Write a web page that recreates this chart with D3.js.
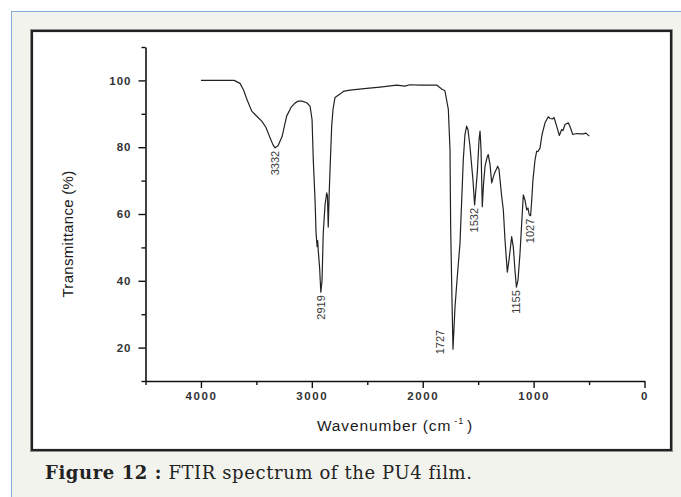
<!DOCTYPE html>
<html>
<head>
<meta charset="utf-8">
<script src="https://cdn.jsdelivr.net/npm/d3@7"></script>
<style>
  html, body { margin: 0; padding: 0; background: #ffffff; }
  svg { display: block; }
</style>
</head>
<body>
<svg id="fig" width="681" height="497"></svg>
<script>
// FTIR spectrum of the PU4 film: wavenumber (cm^-1) vs transmittance (%)
const wavenumber = [
  4000, 3700, 3648, 3618, 3585, 3542, 3503, 3452, 3413, 3377, 3350, 3332,
  3305, 3269, 3227, 3188, 3152, 3122, 3089, 3046, 3016, 2998, 2987, 2971,
  2962, 2952, 2947, 2942, 2930, 2919, 2908, 2897, 2881, 2866, 2859, 2852,
  2843, 2836, 2821, 2809, 2791, 2746, 2716, 2656, 2505, 2385, 2235, 2160,
  2115, 2024, 1874, 1829, 1800, 1769, 1754, 1748, 1736, 1727, 1709, 1691,
  1664, 1634, 1619, 1604, 1592, 1574, 1547, 1532, 1508, 1492, 1483, 1474,
  1463, 1452, 1438, 1420, 1409, 1393, 1378, 1357, 1324, 1312, 1288, 1273,
  1258, 1237, 1222, 1198, 1183, 1168, 1155, 1141, 1123, 1093, 1078, 1062,
  1051, 1039, 1027, 1017, 1006, 987, 972, 960, 942, 924, 897, 868,
  852, 828, 816, 792, 768, 747, 735, 717, 687, 672, 647, 611,
  582, 552, 528, 498
];
const transmittance = [
  100.0, 100.0, 99.1, 97.3, 94.3, 90.8, 89.5, 87.8, 85.9, 82.8, 80.7, 79.8,
  80.4, 83.1, 89.3, 91.9, 93.2, 93.8, 93.8, 93.3, 92.3, 88.3, 76.2, 64.2,
  54.3, 50.2, 52.0, 49.0, 44.0, 36.6, 40.1, 54.3, 62.7, 66.3, 65.4, 56.1,
  66.7, 73.2, 86.3, 91.3, 94.9, 95.9, 96.7, 97.1, 97.6, 98.0, 98.6, 98.3,
  98.7, 98.6, 98.6, 97.4, 96.9, 91.3, 79.3, 56.1, 34.1, 19.5, 32.1, 40.1,
  51.2, 76.3, 83.8, 86.3, 85.3, 80.3, 70.2, 62.7, 72.3, 82.3, 84.8, 79.2,
  62.2, 68.8, 74.3, 76.9, 77.8, 74.8, 69.3, 71.8, 74.3, 73.3, 65.3, 61.2,
  52.2, 42.6, 46.2, 53.2, 50.1, 43.1, 38.1, 40.1, 48.1, 65.7, 64.2, 61.2,
  61.8, 59.7, 59.5, 64.2, 70.2, 76.3, 78.8, 78.7, 79.8, 83.8, 87.3, 89.1,
  88.6, 88.5, 88.9, 86.3, 83.5, 85.3, 85.0, 86.8, 87.3, 86.2, 83.8, 84.1,
  84.0, 84.0, 84.2, 83.3
];

// annotated absorption bands
const peakWavenumbers = [3332, 2919, 1727, 1532, 1155, 1027];

// axis ticks
const xMajorTicks = [4000, 3000, 2000, 1000, 0];
const xMinorTicks = [4500, 3500, 2500, 1500, 500];
const yMajorTicks = [20, 40, 60, 80, 100];
const yMinorTicks = [10, 30, 50, 70, 90, 110];

const xTitle = "Wavenumber (cm";
const yTitle = "Transmittance (%)";
const captionBold = "Figure 12 :";
const captionText = " FTIR spectrum of the PU4 film.";

const svg = d3.select("#fig");

// page panel
svg.append("rect")
  .attr("x", 11.5).attr("y", 11.5).attr("width", 700).attr("height", 500)
  .attr("fill", "#f3f3ee").attr("stroke", "#86a9dc").attr("stroke-width", 1);

// figure frame
svg.append("rect")
  .attr("x", 30.5).attr("y", 29.5).attr("width", 642).attr("height", 422)
  .attr("fill", "none").attr("stroke", "#9a9a9a").attr("stroke-width", 1);
svg.append("rect")
  .attr("x", 32).attr("y", 31).attr("width", 639).attr("height", 419)
  .attr("fill", "#ffffff").attr("stroke", "#222222").attr("stroke-width", 2.2);

const x = d3.scaleLinear().domain([4500, 0]).range([145.5, 644.5]);
const y = d3.scaleLinear().domain([10, 110]).range([381, 47]);

const fontSans = "Arial, 'Liberation Sans', sans-serif";

// x axis
const gx = svg.append("g").attr("transform", `translate(0,${y(10)})`);
gx.call(d3.axisBottom(x).tickValues(xMajorTicks).tickSize(7).tickSizeOuter(0)
  .tickFormat(d3.format("d")));
gx.append("g").call(d3.axisBottom(x).tickValues(xMinorTicks).tickSize(4)
  .tickSizeOuter(0).tickFormat(""))
  .select(".domain").remove();

// y axis
const gy = svg.append("g").attr("transform", `translate(${x(4500)},0)`);
gy.call(d3.axisLeft(y).tickValues(yMajorTicks).tickSize(7).tickSizeOuter(0)
  .tickFormat(d3.format("d")));
gy.append("g").call(d3.axisLeft(y).tickValues(yMinorTicks).tickSize(4)
  .tickSizeOuter(0).tickFormat(""))
  .select(".domain").remove();

svg.selectAll(".domain").attr("stroke", "#111").attr("stroke-width", 1.6);
svg.selectAll(".tick line").attr("stroke", "#111").attr("stroke-width", 1.4);
svg.selectAll(".tick text")
  .attr("fill", "#333")
  .style("font-family", fontSans)
  .style("font-size", "11.5px")
  .style("font-weight", "bold")
  .style("letter-spacing", "1px");
gx.selectAll(".tick text").attr("y", 11).style("letter-spacing", "1.6px");
gy.selectAll(".tick text").attr("x", -14);

// axis titles
const xt = svg.append("text")
  .attr("x", 395).attr("y", 431)
  .attr("text-anchor", "middle")
  .attr("fill", "#1a1a1a")
  .style("font-family", fontSans)
  .style("font-size", "15.5px")
  .style("letter-spacing", "0.9px")
  .text(xTitle);
xt.append("tspan").attr("dx", 3).attr("dy", -7).style("font-size", "9px").text("-1");
xt.append("tspan").attr("dx", 3).attr("dy", 7).text(")");

svg.append("text")
  .attr("transform", `translate(72.5,234) rotate(-90)`)
  .attr("text-anchor", "middle")
  .attr("fill", "#1a1a1a")
  .style("font-family", fontSans)
  .style("font-size", "15px")
  .style("letter-spacing", "0.3px")
  .text(yTitle);

// spectrum trace
const line = d3.line()
  .x((d, i) => x(wavenumber[i]))
  .y((d, i) => y(transmittance[i]));
svg.append("path")
  .datum(wavenumber)
  .attr("d", line)
  .attr("fill", "none")
  .attr("stroke", "#222")
  .attr("stroke-width", 1.2)
  .attr("stroke-linejoin", "round");

// band labels, rotated, hung below each minimum; the deepest band is labelled beside its trough
peakWavenumbers.forEach(wn => {
  const t = transmittance[wavenumber.indexOf(wn)];
  const deep = t < 30;
  const px = deep ? x(wn) - 13 : x(wn);
  const py = deep ? y(t) + 5 : y(t) + 3;
  svg.append("text")
    .attr("transform", `translate(${px},${py}) rotate(-90)`)
    .attr("text-anchor", deep ? "start" : "end")
    .attr("dy", "0.35em")
    .attr("fill", "#3a3a3a")
    .style("font-family", fontSans)
    .style("font-size", "11px")
    .text(d3.format("d")(wn));
});

// caption
const cap = svg.append("text")
  .attr("x", 45).attr("y", 479)
  .attr("fill", "#222")
  .style("font-family", "'DejaVu Serif', serif")
  .style("font-size", "18px")
  .style("letter-spacing", "0.6px");
cap.append("tspan").style("font-weight", "bold").text(captionBold);
cap.append("tspan").text(captionText);
</script>
</body>
</html>
